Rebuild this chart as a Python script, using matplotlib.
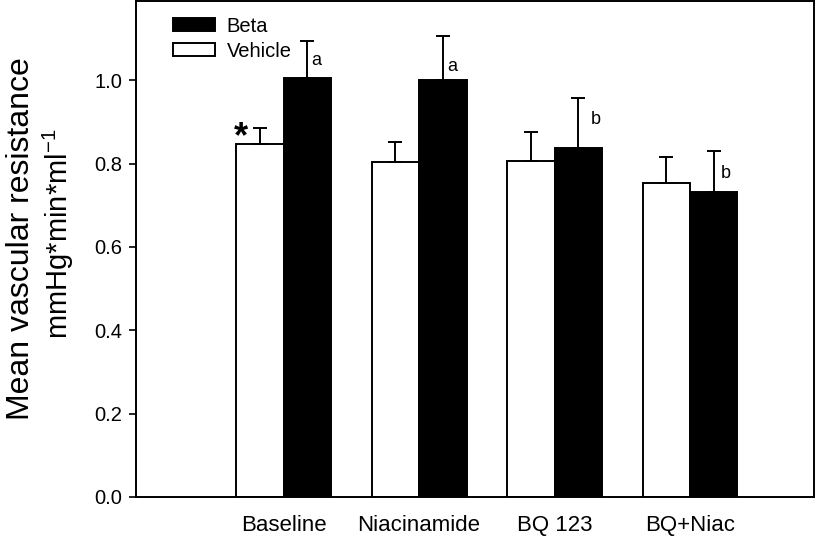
import matplotlib
matplotlib.use("Agg")
import matplotlib.pyplot as plt
import numpy as np

categories = ["Baseline", "Niacinamide", "BQ 123", "BQ+Niac"]
vehicle = [0.847, 0.803, 0.807, 0.753]
vehicle_err = [0.039, 0.048, 0.068, 0.062]
beta = [1.005, 1.000, 0.838, 0.732]
beta_err = [0.088, 0.106, 0.120, 0.098]
beta_letters = ["a", "a", "b", "b"]
letter_y = [1.048, 1.034, 0.905, 0.777]
letter_dx = [0.066, 0.066, 0.13, 0.088]
yticks = [0.0, 0.2, 0.4, 0.6, 0.8, 1.0]

plt.rcParams['font.family'] = ["Liberation Sans", "DejaVu Sans"]
plt.rcParams['mathtext.fontset'] = "custom"
plt.rcParams['mathtext.rm'] = "Liberation Sans"

fig = plt.figure(figsize=(8.19, 5.39), dpi=100)
ax = fig.add_axes([136/819, 42/539, 678/819, 496/539])

x = np.arange(1, len(categories) + 1)
w = 0.35
lw = 1.4
ax.bar(x - w/2, vehicle, w, color="white", edgecolor="black", linewidth=lw,
       label="Vehicle", zorder=2)
ax.bar(x + w/2, beta, w, color="black", edgecolor="black", linewidth=lw,
       label="Beta", zorder=2)
ax.errorbar(x - w/2, vehicle, yerr=[np.zeros(4), vehicle_err], fmt="none",
            ecolor="black", elinewidth=lw, capsize=4.7, capthick=lw, zorder=3)
ax.errorbar(x + w/2, beta, yerr=[np.zeros(4), beta_err], fmt="none",
            ecolor="black", elinewidth=lw, capsize=4.7, capthick=lw, zorder=3)

for xi, ly, dx, t in zip(x, letter_y, letter_dx, beta_letters):
    ax.text(xi + w/2 + dx, ly, t, ha="center", va="center", fontsize=13)

ax.text(x[0] - w/2 - 0.137, 0.862, "*", ha="center", va="center",
        fontsize=26, fontweight="bold")

ax.set_xlim(-0.09, 4.915)
ax.set_ylim(0, 1.19)
ax.set_yticks(yticks)
ax.set_yticklabels([f"{v:.1f}" for v in yticks], fontsize=14.5)
ax.set_xticks(x)
ax.set_xticklabels(categories, fontsize=16)
ax.tick_params(axis="x", length=0, pad=13)
ax.tick_params(axis="y", length=5, width=1.2, direction="out", pad=5)
for s in ax.spines.values():
    s.set_linewidth(lw)

fig.text(29/819, 1 - 239/539, "Mean vascular resistance", rotation=90,
         rotation_mode="anchor", ha="center", va="baseline", fontsize=23)
fig.text(68/819, 1 - 234/539, r"mmHg*min*ml$^{-1}$", rotation=90,
         rotation_mode="anchor", ha="center", va="baseline", fontsize=21)

h, l = ax.get_legend_handles_labels()
ax.legend([h[1], h[0]], [l[1], l[0]], loc="upper left",
          bbox_to_anchor=(0.0426, 0.984), frameon=False, fontsize=14.5,
          handlelength=2.1, handleheight=0.62, labelspacing=0.28,
          handletextpad=0.57, borderaxespad=0)

fig.savefig("out.png", dpi=100)
